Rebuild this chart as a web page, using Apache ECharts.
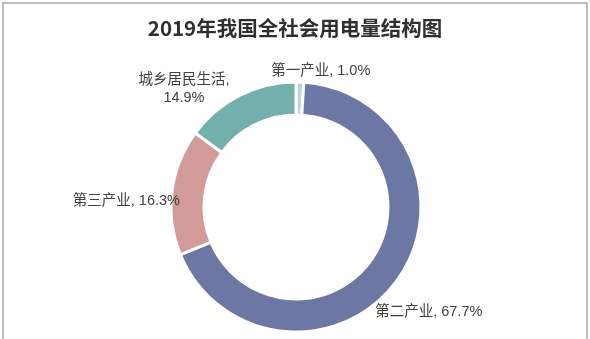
<!DOCTYPE html>
<html>
<head>
<meta charset="utf-8">
<script src="https://cdn.jsdelivr.net/npm/echarts@6/dist/echarts.min.js"></script>
<style>
  html, body { margin: 0; padding: 0; background: #fff; }
  #chart { width: 590px; height: 339px; }
</style>
</head>
<body>
<div id="chart"></div>
<script>
// 2019 electricity consumption structure (share of total, %)
const categories = ['第一产业', '第二产业', '第三产业', '城乡居民生活'];
const shares = [1.0, 67.7, 16.3, 14.9];
const sliceColors = ['#b9d2e6', '#6c77a3', '#d39a9c', '#73afac'];
const titleText = '2019年我国全社会用电量结构图';

const seriesData = categories.map((name, i) => ({ name: name, value: shares[i] }));

// per-label nudges from the default outside position, plus alignment
const labelNudge = [
  { dx: -34, dy: -3 },
  { dx: -34, dy: 28 },
  { dx: 21, dy: 10 },
  { dx: -47, dy: 1, align: 'center' }
];

const chart = echarts.init(document.getElementById('chart'), null, { renderer: 'canvas' });
chart.setOption({
  animation: false,
  backgroundColor: '#fff',
  color: sliceColors,
  title: {
    text: titleText,
    left: 'center',
    top: 13,
    textStyle: {
      fontFamily: '"Noto Sans CJK SC", sans-serif',
      fontSize: 20.5,
      fontWeight: 'bold',
      color: '#2f2f2f'
    }
  },
  graphic: [{
    type: 'rect',
    shape: { x: 3, y: 3, width: 584, height: 345 },
    style: { fill: 'none', stroke: '#aaaaaa', lineWidth: 1.5 },
    silent: true
  }],
  series: [{
    type: 'pie',
    center: [296, 207],
    radius: [92, 125],
    startAngle: 90,
    clockwise: true,
    avoidLabelOverlap: false,
    itemStyle: { borderColor: '#fff', borderWidth: 3 },
    label: {
      show: true,
      position: 'outside',
      fontFamily: '"Liberation Sans", "Noto Sans CJK SC", sans-serif',
      fontSize: 14.5,
      color: '#404040',
      lineHeight: 18,
      formatter: function (p) {
        const v = p.value.toFixed(1) + '%';
        return p.name === '城乡居民生活' ? p.name + ',\n' + v : p.name + ', ' + v;
      }
    },
    labelLine: { show: false, length: 8, length2: 0 },
    labelLayout: function (p) {
      return Object.assign({}, labelNudge[p.dataIndex]);
    },
    data: seriesData
  }]
});
</script>
</body>
</html>
